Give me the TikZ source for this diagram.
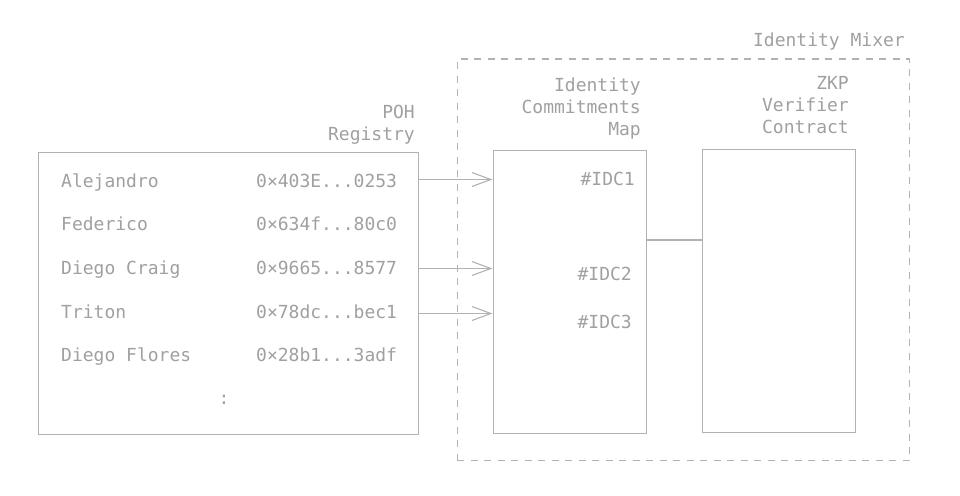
\documentclass[tikz,border=0pt]{standalone}
\usepackage{fontspec}
\setmonofont{DejaVu Sans Mono}
\usetikzlibrary{arrows.meta}
\definecolor{txt}{RGB}{160,160,160}
\definecolor{ln}{RGB}{178,178,178}
\tikzset{
  lbl/.style={inner sep=0pt, text=txt, font=\ttfamily\fontsize{18}{22}\selectfont},
  box/.style={draw=ln, line width=1.1pt, inner sep=0pt, anchor=north west},
  dbox/.style={draw=ln, line width=1.1pt, inner sep=0pt, anchor=north west, dash pattern=on 7pt off 6.5pt},
  conn/.style={draw=ln, line width=1.1pt},
  arr/.style={conn, -{Straight Barb[length=19pt,width=14pt,line width=1.1pt]}}
}
\begin{document}
\begin{tikzpicture}[x=1pt,y=-1pt]
\useasboundingbox (0,0) rectangle (960,495);
% boxes
\node[dbox, minimum width=452.5pt, minimum height=401.5pt] (mixer) at (456.5,58.5) {};
\node[box, minimum width=380pt, minimum height=282pt] (reg) at (37.5,151.5) {};
\node[box, minimum width=153pt, minimum height=282.5pt] (map) at (492.5,150) {};
\node[box, minimum width=153.5pt, minimum height=282.7pt] (zkp) at (701.5,149) {};
% titles (base anchor = baseline of last line)
\node[lbl, anchor=base east] (mixlbl) at (905,46.7) {Identity Mixer};
\node[lbl, anchor=base east, align=right] (reglbl) at (415,140.3) {POH\\Registry};
\node[lbl, anchor=base east, align=right] (maplbl) at (641,135.7) {Identity\\Commitments\\Map};
\node[lbl, anchor=base east, align=right] (zkplbl) at (849,133.3) {ZKP\\Verifier\\Contract};
% registry rows
\node[lbl, anchor=base west] (n1) at (61,187) {Alejandro};
\node[lbl, anchor=base west] (n2) at (61,230) {Federico};
\node[lbl, anchor=base west] (n3) at (61,274) {Diego Craig};
\node[lbl, anchor=base west] (n4) at (61,318) {Triton};
\node[lbl, anchor=base west] (n5) at (61,361) {Diego Flores};
\node[lbl, anchor=base west] (a1) at (256,187) {0×403E...0253};
\node[lbl, anchor=base west] (a2) at (256,230) {0×634f...80c0};
\node[lbl, anchor=base west] (a3) at (256,274) {0×9665...8577};
\node[lbl, anchor=base west] (a4) at (256,318) {0×78dc...bec1};
\node[lbl, anchor=base west] (a5) at (256,361) {0×28b1...3adf};
\node[lbl, anchor=base] (more) at (224,404) {:};
% commitments
\node[lbl, anchor=base east] (c1) at (635,185) {\#IDC1};
\node[lbl, anchor=base east] (c2) at (632,280) {\#IDC2};
\node[lbl, anchor=base east] (c3) at (632,328) {\#IDC3};
% connectors
\coordinate (y1) at (0,179.5);
\coordinate (y2) at (0,268.5);
\coordinate (y3) at (0,313.5);
\coordinate (y4) at (0,240);
\draw[arr] (reg.east |- y1) -- (map.west |- y1);
\draw[arr] (reg.east |- y2) -- (map.west |- y2);
\draw[arr] (reg.east |- y3) -- (map.west |- y3);
\draw[conn] (map.east |- y4) -- (zkp.west |- y4);
\end{tikzpicture}
\end{document}
